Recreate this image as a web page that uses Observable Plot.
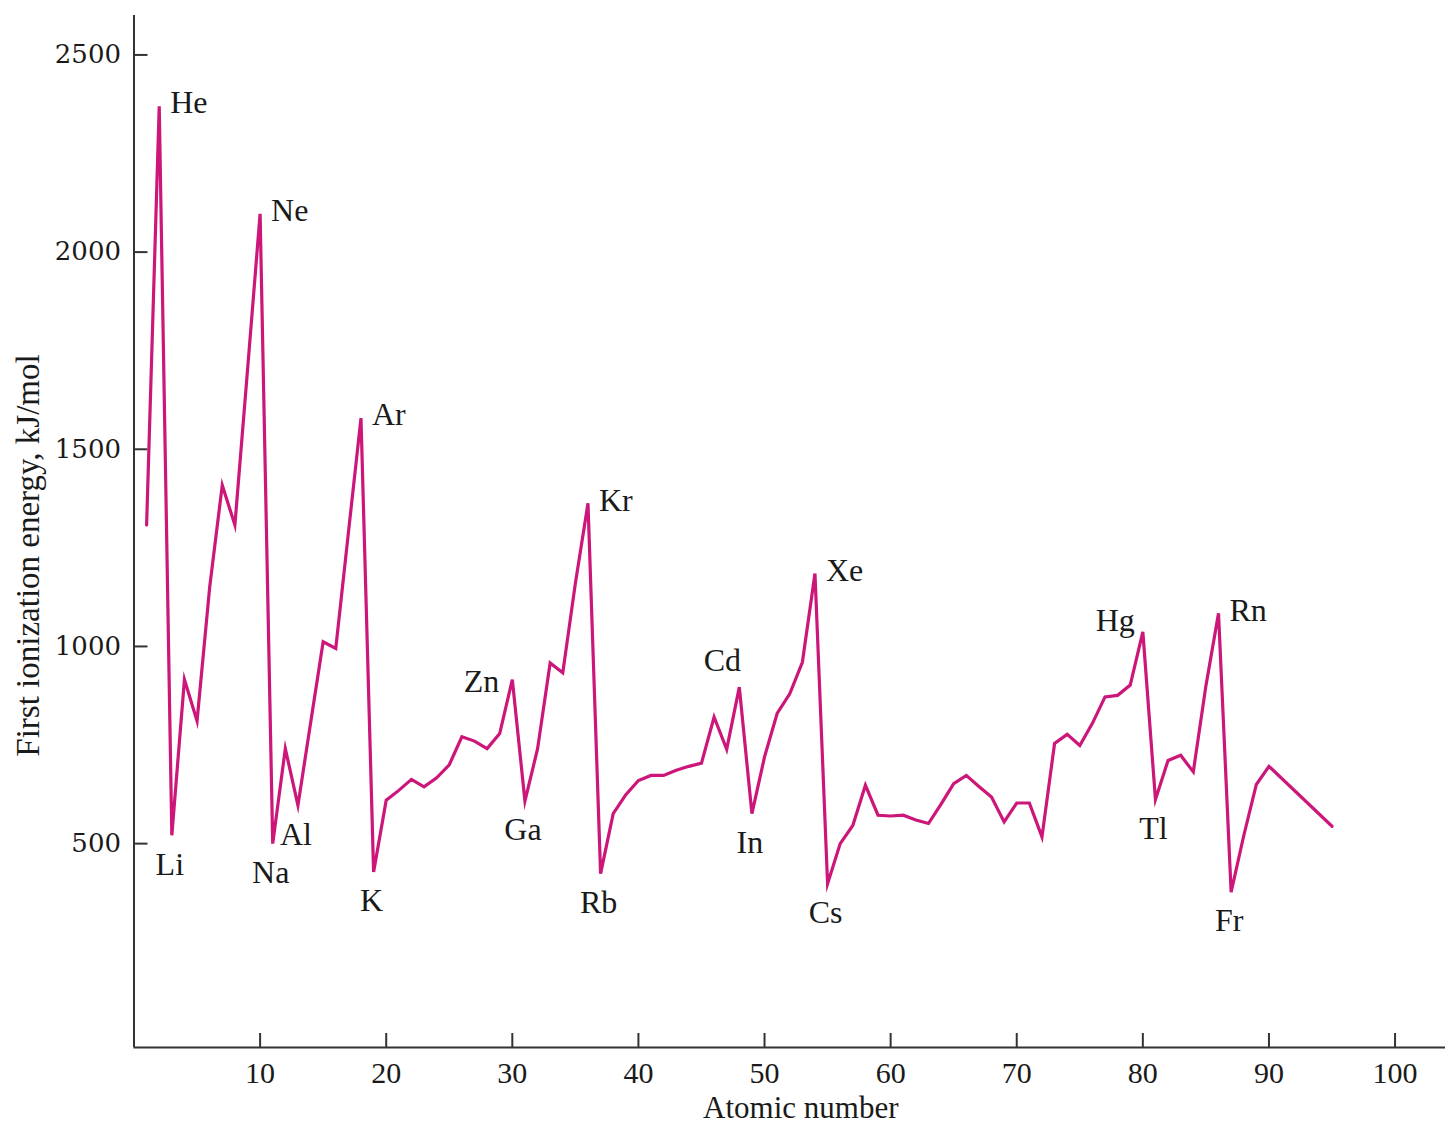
<!DOCTYPE html>
<html>
<head>
<meta charset="utf-8">
<script src="https://cdn.jsdelivr.net/npm/d3@7"></script>
<script src="https://cdn.jsdelivr.net/npm/@observablehq/plot@0.6"></script>
<style>
  body { margin: 0; background: #fff; }
  #chart svg { display: block; }
</style>
</head>
<body>
<div id="chart"></div>
<script>
// ---- data ----
const atomicNumber = [
  1, 2, 3, 4, 5, 6, 7, 8, 9, 10,
  11, 12, 13, 14, 15, 16, 17, 18, 19, 20,
  21, 22, 23, 24, 25, 26, 27, 28, 29, 30,
  31, 32, 33, 34, 35, 36, 37, 38, 39, 40,
  41, 42, 43, 44, 45, 46, 47, 48, 49, 50,
  51, 52, 53, 54, 55, 56, 57, 58, 59, 60,
  61, 62, 63, 64, 65, 66, 67, 68, 69, 70,
  71, 72, 73, 74, 75, 76, 77, 78, 79, 80,
  81, 82, 83, 84, 85, 86, 87, 88, 89, 90,
  95
];
const ionizationEnergy = [
  1308, 2370, 521, 916, 811, 1150, 1409, 1308, 1700, 2097,
  500, 741, 597, 805, 1012, 995, 1288, 1579, 428, 610,
  635, 663, 644, 667, 700, 771, 760, 741, 779, 916,
  608, 740, 958, 933, 1160, 1363, 424, 576, 624, 660,
  673, 673, 686, 696, 704, 821, 739, 897, 576, 720,
  830, 880, 960, 1185, 398, 500, 546, 648, 572, 570,
  572, 560, 551, 600, 652, 673, 645, 618, 555, 603,
  603, 517, 754, 777, 749, 805, 872, 876, 902, 1037,
  612, 711, 724, 682, 900, 1084, 377, 520, 650, 696,
  544
];
const xTicks = [10, 20, 30, 40, 50, 60, 70, 80, 90, 100];
const yTicks = [500, 1000, 1500, 2000, 2500];
const labelSymbols = ["He", "Ne", "Ar", "Kr", "Xe", "Rn",
                      "Li", "Na", "Al", "K", "Ga", "Rb", "In", "Cs", "Tl", "Fr",
                      "Zn", "Cd", "Hg"];
const labelZ = [2, 10, 18, 36, 54, 86,
                3, 11, 13, 19, 31, 37, 49, 55, 81, 87,
                30, 48, 80];
const xLabel = "Atomic number";
const yLabel = "First ionization energy, kJ/mol";

// ---- build table ----
const rows = atomicNumber.map((z, i) => ({z, energy: ionizationEnergy[i]}));
const energyOf = new Map(rows.map(d => [d.z, d.energy]));
const labels = labelSymbols.map((s, i) => ({symbol: s, z: labelZ[i], energy: energyOf.get(labelZ[i])}));

const peakSet = new Set(["He", "Ne", "Ar", "Kr", "Xe", "Rn"]);
const troughSet = new Set(["Li", "Na", "Al", "K", "Ga", "Rb", "In", "Cs", "Tl", "Fr"]);

const serif = "'Liberation Serif', 'Times New Roman', serif";
const lineColor = "#cc1679";
const axisColor = "#333";
const yMin = -17, yMax = 2600;

const labelStyle = {x: "z", y: "energy", text: "symbol", fontSize: 32, fontFamily: serif, fill: "#1a1a1a"};

const chart = Plot.plot({
  width: 1448,
  height: 1128,
  marginLeft: 133.5,
  marginRight: 3,
  marginTop: 15,
  marginBottom: 81,
  style: {background: "#fff", color: "#1a1a1a"},
  x: {domain: [0, 104]},
  y: {domain: [yMin, yMax]},
  marks: [
    Plot.axisX(xTicks, {tickSize: -14, tickPadding: 28, fontSize: 30, fontFamily: serif,
                        tickFormat: d => String(d),
                        stroke: axisColor, strokeWidth: 2, label: null}),
    Plot.axisY(yTicks, {tickSize: -14, tickPadding: 27, fontSize: 26, fontFamily: "'DejaVu Serif', serif",
                        tickFormat: d => String(d),
                        stroke: axisColor, strokeWidth: 2, label: null}),
    Plot.ruleY([yMin], {stroke: axisColor, strokeWidth: 2}),
    Plot.ruleX([0], {stroke: axisColor, strokeWidth: 2}),
    Plot.line(rows, {x: "z", y: "energy", stroke: lineColor, strokeWidth: 3.2, strokeLinejoin: "miter", strokeMiterlimit: 6}),
    Plot.text(labels.filter(d => peakSet.has(d.symbol)), {...labelStyle, textAnchor: "start", dx: 11, dy: -3}),
    Plot.text(labels.filter(d => troughSet.has(d.symbol)), {...labelStyle, textAnchor: "middle", dx: -2, dy: 29}),
    Plot.text(labels.filter(d => d.symbol === "Zn"), {...labelStyle, textAnchor: "end", dx: -13, dy: 2}),
    Plot.text(labels.filter(d => d.symbol === "Hg"), {...labelStyle, textAnchor: "end", dx: -8, dy: -11}),
    Plot.text(labels.filter(d => d.symbol === "Cd"), {...labelStyle, textAnchor: "middle", dx: -17, dy: -26}),
    Plot.text([xLabel], {text: d => d, frameAnchor: "bottom", textAnchor: "middle", lineAnchor: "middle",
                         dy: 61, dx: 11, fontSize: 31, fontFamily: serif}),
    Plot.text([yLabel], {text: d => d, frameAnchor: "left", textAnchor: "middle", lineAnchor: "middle",
                         rotate: -90, dx: -106, dy: 24, fontSize: 33, fontFamily: serif})
  ]
});
document.getElementById("chart").appendChild(chart);
</script>
</body>
</html>
